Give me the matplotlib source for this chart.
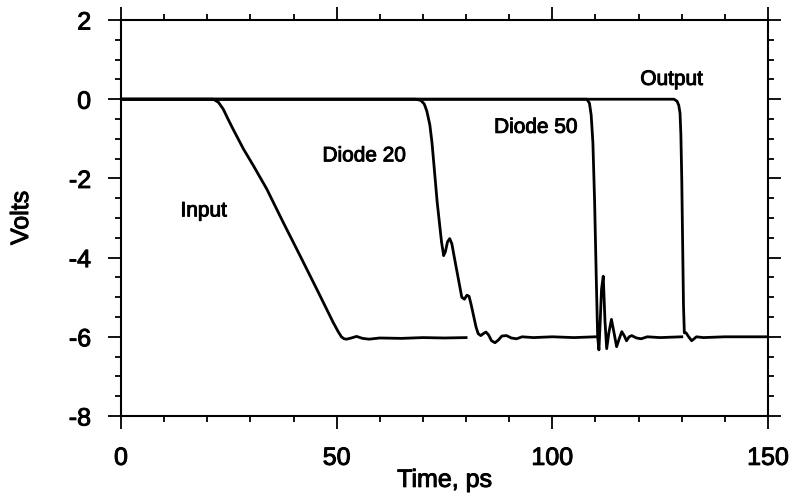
import matplotlib
matplotlib.use("Agg")
import matplotlib.pyplot as plt
import matplotlib.patheffects as pe
from matplotlib.ticker import MultipleLocator

plt.rcParams['font.family'] = ['Liberation Sans', 'DejaVu Sans']
plt.rcParams['axes.unicode_minus'] = False

# traces (time in ps, volts)
input_t = [0, 21.4, 22.6, 23.7, 24.8, 26.0, 28.4, 30.7, 33.8, 37.6, 41.5, 45.4,
           49.2, 50.4, 51.1, 51.7, 52.3, 53.4, 54.6, 56.0, 57.5, 60.0, 65.0,
           70.0, 75.0, 80.0]
input_v = [0, 0, -0.08, -0.25, -0.5, -0.76, -1.26, -1.68, -2.27, -3.11, -3.95,
           -4.8, -5.64, -5.88, -6.0, -6.05, -6.06, -6.03, -5.99, -6.04, -6.06,
           -6.03, -6.04, -6.02, -6.03, -6.02]

diode20_t = [0, 68.3, 69.5, 70.3, 70.9, 71.6, 72.1, 72.5, 72.9, 73.3, 73.8,
             74.3, 74.8, 75.2, 75.7, 76.2, 76.7, 77.2, 77.8, 78.4, 79.0, 79.6,
             80.2, 80.7, 81.2, 81.7, 82.3, 82.8, 83.4, 84.0, 84.6, 85.2, 85.9,
             86.7, 87.5, 88.3, 89.4, 90.5, 91.7, 93.0, 95.6, 100.0, 105.0, 110.0]
diode20_v = [0, 0, -0.03, -0.12, -0.3, -0.65, -1.1, -1.6, -2.1, -2.6, -3.1,
             -3.6, -3.95, -3.85, -3.6, -3.52, -3.65, -3.95, -4.3, -4.65, -5.0,
             -5.05, -4.95, -4.98, -5.2, -5.45, -5.75, -5.92, -5.97, -5.92, -5.88,
             -5.95, -6.1, -6.15, -6.08, -5.98, -5.97, -6.03, -6.05, -6.0, -6.02,
             -6.0, -6.02, -6.0]

diode50_t = [0, 108.0, 108.6, 109.0, 109.4, 109.8, 110.2, 110.5, 110.8, 111.1,
             111.4, 111.8, 112.2, 112.6, 113.1, 113.7, 114.3, 114.9, 115.5,
             116.1, 116.7, 117.2, 117.8, 118.4, 119.5, 120.6, 122.0, 125.0, 130.0]
diode50_v = [0, 0, -0.1, -0.4, -1.1, -2.6, -4.6, -6.0, -6.33, -5.6, -4.8, -4.47,
             -5.6, -6.3, -5.9, -5.56, -5.9, -6.25, -6.05, -5.87, -5.98, -6.1,
             -6.0, -5.97, -6.03, -6.05, -6.0, -6.02, -6.0]

output_t = [0, 128.2, 128.9, 129.3, 129.6, 129.8, 130.0, 130.2, 130.4, 130.6,
            131.0, 131.6, 132.3, 133.4, 135.0, 140.0, 145.0, 150.0]
output_v = [0, 0, -0.05, -0.15, -0.35, -0.9, -2.0, -3.6, -5.2, -5.9, -5.9,
            -6.0, -6.1, -6.0, -6.02, -6.0, -6.0, -6.0]

labels = ["Input", "Diode 20", "Diode 50", "Output"]
label_x = [19.2, 56.4, 96.2, 127.7]
label_y = [-2.82, -1.43, -0.71, 0.5]

# the scanned lettering is a bit heavier than plain regular weight
heavy = [pe.withStroke(linewidth=0.7, foreground='black')]

fig = plt.figure(figsize=(7.93, 4.93), dpi=100)
ax = fig.add_axes([0.1526, 0.1562, 0.8159, 0.8032])

for t, v in [(input_t, input_v), (diode20_t, diode20_v),
             (diode50_t, diode50_v), (output_t, output_v)]:
    ax.plot(t, v, color='black', lw=2.0, solid_joinstyle='round')

for s, x, y in zip(labels, label_x, label_y):
    ax.text(x, y, s, fontsize=15, ha='center', va='center', path_effects=heavy)

ax.set_xlim(0, 150)
ax.set_ylim(-8, 2)
ax.xaxis.set_major_locator(MultipleLocator(50))
ax.xaxis.set_minor_locator(MultipleLocator(10))
ax.yaxis.set_major_locator(MultipleLocator(2))
ax.yaxis.set_minor_locator(MultipleLocator(0.5))
ax.tick_params(which='both', direction='out', top=True, right=True,
               width=1.3, labelsize=18)
ax.tick_params(which='major', length=9.5, pad=12)
ax.tick_params(which='minor', length=4.5)
for sp in ax.spines.values():
    sp.set_linewidth(1.5)

ax.set_xlabel("Time, ps", fontsize=18, path_effects=heavy)
ax.set_ylabel("Volts", fontsize=18, path_effects=heavy)
ax.xaxis.set_label_coords(0.5, -0.131)
ax.yaxis.set_label_coords(-0.136, 0.5)
for lab in ax.get_xticklabels() + ax.get_yticklabels():
    lab.set_path_effects(heavy)

fig.savefig("out.png", dpi=100)
